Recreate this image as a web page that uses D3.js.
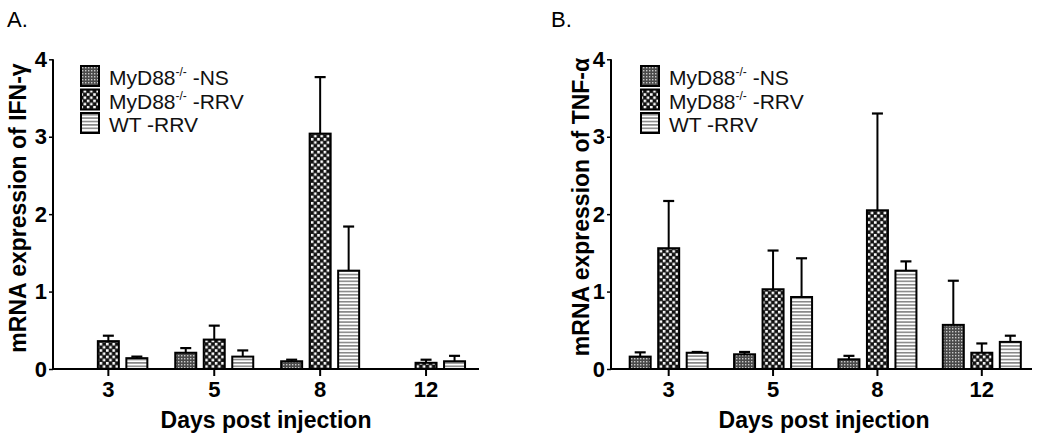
<!DOCTYPE html>
<html><head><meta charset="utf-8">
<script src="https://cdn.jsdelivr.net/npm/d3@7"></script>
<style>body{margin:0;background:#fff}svg{display:block}</style>
</head><body>
<svg id="c" width="1050" height="442"></svg>
<script>
const days = ["3", "5", "8", "12"];
const seriesNames = ["NS", "RRV", "WT"];
const yTicks = [0, 1, 2, 3, 4];

// Panel A: IFN-gamma (null = no bar)
const ifnNS = [null, 0.21, 0.10, null];
const ifnNSErr = [null, 0.06, 0.02, null];
const ifnRRV = [0.36, 0.38, 3.04, 0.08];
const ifnRRVErr = [0.07, 0.18, 0.73, 0.04];
const ifnWT = [0.14, 0.16, 1.27, 0.10];
const ifnWTErr = [0.02, 0.08, 0.57, 0.07];

// Panel B: TNF-alpha
const tnfNS = [0.16, 0.19, 0.125, 0.57];
const tnfNSErr = [0.055, 0.03, 0.045, 0.57];
const tnfRRV = [1.56, 1.03, 2.05, 0.21];
const tnfRRVErr = [0.61, 0.50, 1.25, 0.12];
const tnfWT = [0.21, 0.93, 1.27, 0.35];
const tnfWTErr = [0.01, 0.50, 0.12, 0.08];

const svg = d3.select("#c");
const defs = svg.append("defs");
// NS: fine grey dots
const pNS = defs.append("pattern").attr("id","pNS").attr("patternUnits","userSpaceOnUse").attr("width",3).attr("height",3);
pNS.append("rect").attr("width",3).attr("height",3).attr("fill","#4a4a4a");
pNS.append("rect").attr("x",1).attr("y",1).attr("width",1.4).attr("height",1.4).attr("fill","#c8c8c8");
// RRV: checkerboard
const pRRV = defs.append("pattern").attr("id","pRRV").attr("patternUnits","userSpaceOnUse").attr("width",6.4).attr("height",6.4);
pRRV.append("rect").attr("width",6.4).attr("height",6.4).attr("fill","#111");
pRRV.append("rect").attr("x",0.4).attr("y",0.4).attr("width",2.6).attr("height",2.6).attr("fill","#fff");
pRRV.append("rect").attr("x",3.6).attr("y",3.6).attr("width",2.6).attr("height",2.6).attr("fill","#fff");
// WT: horizontal stripes
const pWT = defs.append("pattern").attr("id","pWT").attr("patternUnits","userSpaceOnUse").attr("width",4).attr("height",3.4);
pWT.append("rect").attr("width",4).attr("height",3.4).attr("fill","#fff");
pWT.append("rect").attr("y",1.8).attr("width",4).attr("height",1.4).attr("fill","#777");
const fills = ["url(#pNS)", "url(#pRRV)", "url(#pWT)"];
const legendLabels = [["MyD88","-/-"," -NS"],["MyD88","-/-"," -RRV"],["WT -RRV","",""]];

const FONT = "'Liberation Sans', Arial, Helvetica, sans-serif";

function panel(cfg) {
  const g = svg.append("g");
  const y = d3.scaleLinear().domain([0, 4]).range([369, 59.3]);
  const x = d3.scaleBand().domain(days).range(cfg.xRange).padding(0);
  const off = d3.scalePoint().domain(seriesNames).range([-28.5, 28.5]);
  const bw = 21;

  // bars + error bars
  cfg.series.forEach((s, si) => {
    const data = days.map((d, i) => ({d, v: s.v[i], e: s.e[i]})).filter(o => o.v !== null);
    const cx = o => x(o.d) + x.bandwidth()/2 + off(seriesNames[si]);
    g.selectAll(null).data(data).enter().append("line")
      .attr("x1", cx).attr("x2", cx)
      .attr("y1", o => y(o.v)).attr("y2", o => y(o.v + o.e))
      .attr("stroke","#000").attr("stroke-width",2);
    g.selectAll(null).data(data).enter().append("line")
      .attr("x1", o => cx(o) - 5.5).attr("x2", o => cx(o) + 5.5)
      .attr("y1", o => y(o.v + o.e)).attr("y2", o => y(o.v + o.e))
      .attr("stroke","#000").attr("stroke-width",2.2);
    g.selectAll(null).data(data).enter().append("rect")
      .attr("x", o => cx(o) - bw/2).attr("width", bw)
      .attr("y", o => y(o.v)).attr("height", o => y(0) - y(o.v))
      .attr("fill", fills[si]).attr("stroke","#000").attr("stroke-width",2);
  });

  // y axis
  const ya = g.append("g").attr("transform", `translate(${cfg.axisX},0)`)
    .call(d3.axisLeft(y).tickValues(yTicks).tickSize(4).tickPadding(2).tickFormat(d3.format("d")));
  ya.select(".domain").attr("stroke-width",2).attr("d", `M0,${y(0)}V${y(4)}`);
  ya.selectAll(".tick line").attr("stroke-width",1.5);
  ya.selectAll("text").attr("font-family",FONT).attr("font-weight","bold").attr("font-size",22).attr("fill","#000");

  // x axis
  const xa = g.append("g").attr("transform", `translate(0,${y(0)})`)
    .call(d3.axisBottom(x).tickSize(7).tickPadding(5));
  xa.select(".domain").attr("stroke-width",2).attr("d", `M${cfg.axisX},0H${cfg.axisEnd}`);
  xa.selectAll(".tick line").attr("stroke-width",2);
  xa.selectAll("text").attr("font-family",FONT).attr("font-weight","bold").attr("font-size",22).attr("fill","#000");

  // titles
  g.append("text").attr("x", cfg.xTitleX).attr("y", 428).attr("text-anchor","middle")
    .attr("font-family",FONT).attr("font-weight","bold").attr("font-size",23).text("Days post injection");
  g.append("text").attr("transform", `translate(${cfg.yTitleX},${cfg.yTitleY}) rotate(-90)`).attr("text-anchor","middle")
    .attr("font-family",FONT).attr("font-weight","bold").attr("font-size",23).text(cfg.yTitle);
  g.append("text").attr("x", cfg.labelX).attr("y", 27).attr("font-family",FONT).attr("font-size",22).text(cfg.label);

  // legend
  legendLabels.forEach((lab, i) => {
    const ly = 66 + i * 23.5;
    g.append("rect").attr("x", cfg.legX).attr("y", ly).attr("width",18).attr("height",20)
      .attr("fill", fills[i]).attr("stroke","#000").attr("stroke-width",2);
    const t = g.append("text").attr("x", cfg.legX + 28).attr("y", ly + 19)
      .attr("font-family",FONT).attr("font-size",21).attr("fill","#111");
    t.append("tspan").text(lab[0]);
    if (lab[1]) {
      t.append("tspan").attr("font-size",12).attr("dy",-9).text(lab[1]);
      t.append("tspan").attr("dy",9).text(lab[2]);
    }
  });
}

panel({xRange:[55.4,479], axisX:53, axisEnd:479, xTitleX:266, yTitleX:26, yTitleY:208, labelX:7, label:"A.",
  legX:81, yTitle:"mRNA expression of IFN-γ",
  series:[{v:ifnNS,e:ifnNSErr},{v:ifnRRV,e:ifnRRVErr},{v:ifnWT,e:ifnWTErr}]});
panel({xRange:[616.5,1034], axisX:611, axisEnd:1032, xTitleX:824, yTitleX:589, yTitleY:207, labelX:551, label:"B.",
  legX:641, yTitle:"mRNA expression of TNF-α",
  series:[{v:tnfNS,e:tnfNSErr},{v:tnfRRV,e:tnfRRVErr},{v:tnfWT,e:tnfWTErr}]});
</script>
</body></html>
